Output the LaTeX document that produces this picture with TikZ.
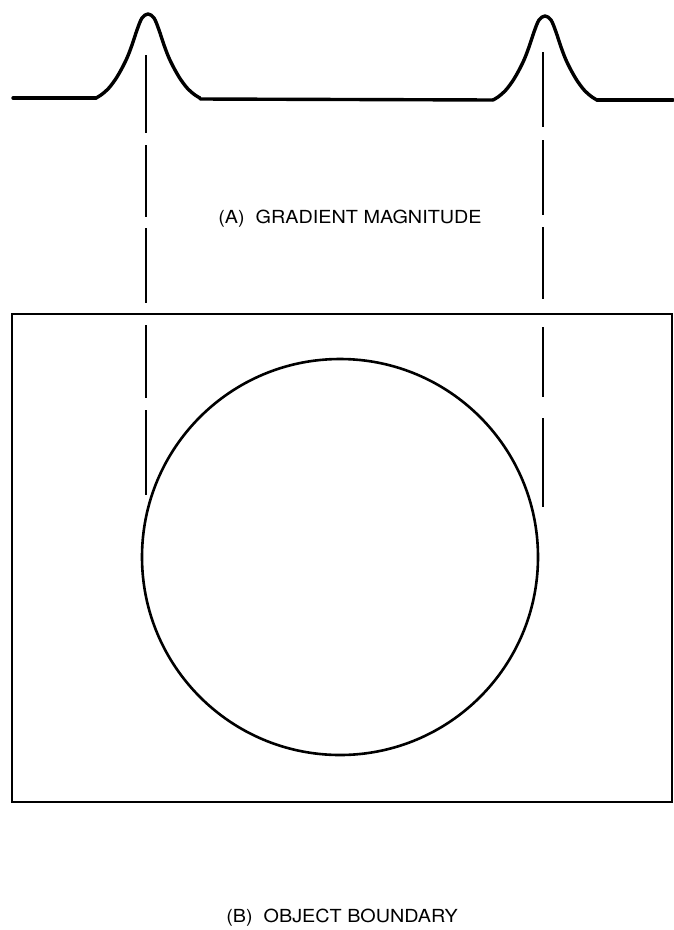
\documentclass[tikz,border=0pt]{standalone}
\usepackage{fontspec}
\newfontfamily\lblfont[FakeStretch=1.1]{TeX Gyre Heros}
\begin{document}
\begin{tikzpicture}[x=1pt,y=-1pt,
  curve/.style={line width=3.4pt, line join=round, line cap=round},
  guide/.style={line width=1.8pt},
  frame/.style={line width=2pt},
  outline/.style={line width=2.6pt},
  lbl/.style={font=\lblfont\fontsize{18}{21}\selectfont, anchor=base, inner sep=0pt},
  peak/.pic={\draw[curve] plot[smooth,tension=0.55] coordinates {(-52,0) (-47,-3) (-40,-9) (-33,-18) (-27,-28) (-21,-40) (-16,-53) (-11,-68) (-6,-80) (0,-84) (6,-80) (11,-68) (16,-53) (21,-40) (27,-28) (33,-18) (40,-9) (47,-3) (52,0)};}
]
\useasboundingbox (0,0) rectangle (673,930);
\fill[white] (0,0) rectangle (673,930);
% gradient magnitude curve
\draw[curve] (13,98) -- (96,98);
\pic at (148,98) {peak};
\draw[curve] (200,99) -- (493,100);
\pic at (545,100) {peak};
\draw[curve] (597,100) -- (673,100);
% dashed guides
\foreach \a/\b in {55/133,145/217,228/303,325/398,410/495}
  \draw[guide] (146,\a) -- (146,\b);
\foreach \a/\b in {52/127,140/215,227/299,327/397,418/507}
  \draw[guide] (543,\a) -- (543,\b);
% frame and object
\draw[frame] (12,314) rectangle (672,802);
\draw[outline] (340,557) circle[radius=198];
% labels
\node[lbl] (la) at (350,223) {(A)\ \ GRADIENT MAGNITUDE};
\node[lbl] (lb) at (342,922) {(B)\ \ OBJECT BOUNDARY};
\end{tikzpicture}
\end{document}
